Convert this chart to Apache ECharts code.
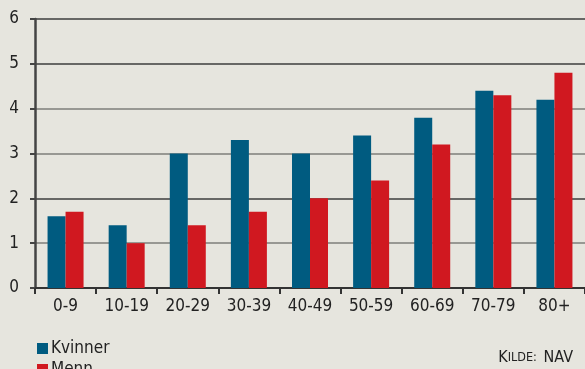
<!DOCTYPE html>
<html>
<head>
<meta charset="utf-8">
<script src="https://cdn.jsdelivr.net/npm/echarts@6/dist/echarts.min.js"></script>
<style>
  html, body { margin: 0; padding: 0; background: #e6e5de; }
  #chart { width: 585px; height: 369px; }
</style>
</head>
<body>
<div id="chart"></div>
<script>
// Age groups and values for each series
const ageGroups = ['0-9', '10-19', '20-29', '30-39', '40-49', '50-59', '60-69', '70-79', '80+'];
const kvinner = [1.6, 1.4, 3.0, 3.3, 3.0, 3.4, 3.8, 4.4, 4.2];
const menn = [1.7, 1.0, 1.4, 1.7, 2.0, 2.4, 3.2, 4.3, 4.8];
const yTicks = [0, 1, 2, 3, 4, 5, 6];

const FONT = 'DejaVu Sans Condensed';
const chart = echarts.init(document.getElementById('chart'));

const legendText = { fontFamily: FONT, fontSize: 17, color: '#222', padding: [0, 0, 0, -2] };

chart.setOption({
  backgroundColor: '#e6e5de',
  animation: false,
  textStyle: { fontFamily: FONT },
  grid: { left: 35, top: 19, width: 553, height: 269, containLabel: false },
  legend: [
    {
      left: 32, top: 335, itemWidth: 11, itemHeight: 11, icon: 'rect',
      textStyle: legendText, data: ['Kvinner']
    },
    {
      left: 32, top: 356, itemWidth: 11, itemHeight: 11, icon: 'rect',
      textStyle: legendText, data: ['Menn']
    }
  ],
  graphic: [{
    type: 'text',
    right: 12,
    top: 350,
    style: {
      text: '{b|K}{s|ILDE:}  {b|NAV}',
      fill: '#222',
      rich: {
        b: { fontFamily: FONT, fontSize: 16, fill: '#222' },
        s: { fontFamily: FONT, fontSize: 12.5, fill: '#222' }
      }
    }
  }],
  xAxis: {
    type: 'category',
    data: ageGroups,
    axisLine: { lineStyle: { color: '#333', width: 2 } },
    axisTick: { show: true, length: 6, lineStyle: { color: '#333', width: 2 } },
    axisLabel: { fontFamily: FONT, fontSize: 17, color: '#222', margin: 10 }
  },
  yAxis: {
    type: 'value',
    min: yTicks[0],
    max: yTicks[yTicks.length - 1],
    interval: 1,
    axisLine: { show: true, lineStyle: { color: '#444', width: 2.5 } },
    axisTick: { show: true, length: 5, lineStyle: { color: '#444', width: 2 } },
    axisLabel: { fontFamily: FONT, fontSize: 17, color: '#222', margin: 16 },
    splitLine: {
      show: true,
      lineStyle: {
        color: ['#333', '#7e7e7a', '#3c3c3c', '#7e7e7a', '#7e7e7a', '#3c3c3c', '#3c3c3c'],
        width: 1.6
      }
    }
  },
  series: [
    {
      name: 'Kvinner',
      type: 'bar',
      data: kvinner,
      barWidth: 18,
      barGap: '0%',
      itemStyle: { color: '#005b80' }
    },
    {
      name: 'Menn',
      type: 'bar',
      data: menn,
      barWidth: 18,
      barGap: '0%',
      itemStyle: { color: '#d01820' }
    }
  ]
});
</script>
</body>
</html>
